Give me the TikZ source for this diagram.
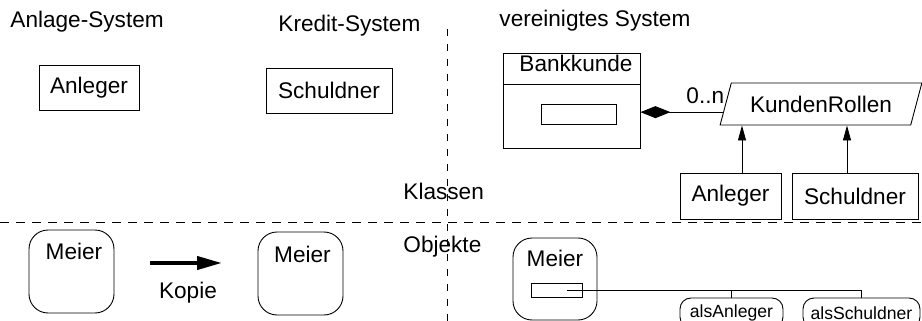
\documentclass[tikz,border=0pt]{standalone}
\usepackage{fontspec}
\setmainfont{Liberation Sans}
\usetikzlibrary{calc,shapes.geometric,arrows.meta}

\begin{document}
\begin{tikzpicture}[x=1pt,y=-1pt,line width=0.9pt,
    every node/.style={font=\fontsize{22.6}{27}\selectfont,inner sep=0pt},
    klasse/.style={draw,minimum height=45pt},
    objekt/.style={draw,rounded corners=19pt,minimum width=85pt,minimum height=83pt},
    rolle/.style={draw,rounded corners=11pt,minimum height=30pt,font=\fontsize{17.6}{21}\selectfont},
    trenner/.style={dash pattern=on 9pt off 7pt},
    erbt/.style={-{Triangle[length=15pt,width=8pt]}}]
  \useasboundingbox (0,0) rectangle (922,321);
  \clip (0,0) rectangle (922,321);
  \draw[trenner] (0,222) -- (922,222);
  \draw[dash pattern=on 7pt off 8pt] (447,29) -- (447,321);

  \node[anchor=base west] (anlagesys) at (10,27.5) {Anlage-System};
  \node[anchor=base west] (kreditsys) at (278,32) {Kredit-System};
  \node[anchor=base west] (vereinsys) at (499,27) {vereinigtes System};
  \node[anchor=base west] (klassen) at (403,199) {Klassen};
  \node[anchor=base west] (objekte) at (403,252) {Objekte};

  \node[klasse,minimum width=100pt] (anlegerA) at (89,87.5) {Anleger};
  \node[klasse,minimum width=126pt] (schuldnerK) at (329,90.5) {Schuldner};

  \node[draw,minimum width=137pt,minimum height=95pt] (bankkunde) at (571.5,100.5) {};
  \node[anchor=base west] (bankname) at (519,72) {Bankkunde};
  \draw (bankkunde.west |- 0,84) -- (bankkunde.east |- 0,84);
  \node[draw,minimum width=75pt,minimum height=20pt] (feld) at (578.5,114) {};

  \node[draw,trapezium,trapezium left angle=62,trapezium right angle=118,trapezium stretches=true,
        minimum width=202pt,minimum height=42pt] (rollen) at (821,104) {KundenRollen};
  \coordinate (teil) at ($(rollen.bottom left corner)!0.31!(rollen.top left corner)$);
  \draw[{Diamond[length=30pt,width=12pt]}-] (bankkunde.east |- teil) -- (teil);
  \node[anchor=base west] (mult) at (686,103) {0..n};

  \node[klasse,minimum width=101pt,minimum height=46pt] (anleger) at (730.5,196) {Anleger};
  \node[klasse,minimum width=126pt,minimum height=46pt] (schuldner) at (855,196) {Schuldner};
  \draw[erbt] ([xshift=11.5pt]anleger.north) -- ([xshift=11.5pt]anleger.north |- rollen.south);
  \draw[erbt] ([xshift=-8pt]schuldner.north) -- ([xshift=-8pt]schuldner.north |- rollen.south);

  \node[objekt] (meier1) at (71.5,271.5) {};
  \node[anchor=base] (meier1name) at (74,259) {Meier};
  \node[objekt] (meier2) at (300.5,273.5) {};
  \node[anchor=base] (meier2name) at (302.5,262) {Meier};
  \coordinate (kopieA) at (150,263);
  \coordinate (kopieB) at (222,263);
  \draw[line width=4pt,-{Triangle[length=25pt,width=13pt]}] (kopieA) -- (kopieB);
  \node[anchor=base] (kopie) at (188,298) {Kopie};

  \node[objekt,minimum width=84pt,minimum height=82pt] (meier3) at (555,279) {};
  \node[anchor=base] (meier3name) at (555,266) {Meier};
  \node[draw,minimum width=51pt,minimum height=14pt] (rollenfeld) at (556.5,290) {};
  \coordinate (link) at ([xshift=10pt]rollenfeld.center);
  \node[rolle,minimum width=103pt] (alsAnleger) at (731.5,313) {alsAnleger};
  \node[rolle,minimum width=117pt] (alsSchuldner) at (861.5,313) {alsSchuldner};
  \draw (link) -- (alsSchuldner.north |- link) -- (alsSchuldner.north);
  \draw (alsAnleger.north |- link) -- (alsAnleger.north);
\end{tikzpicture}
\end{document}
